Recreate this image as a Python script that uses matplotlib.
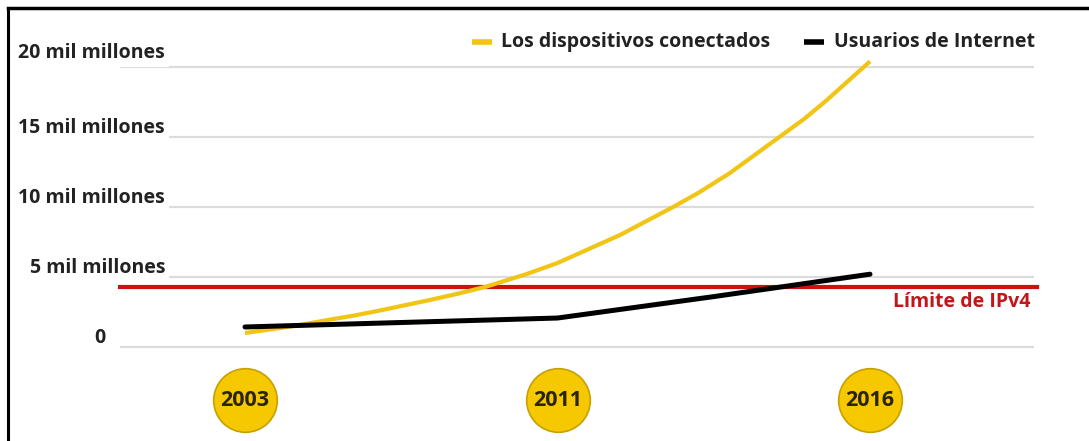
import matplotlib.pyplot as plt

# Datos (miles de millones); posiciones del eje x: 2003=0, 2011=1, 2016=2
years = ["2003", "2011", "2016"]
year_pos = [0, 1, 2]

dev_x = [0, 0.08, 0.17, 0.27, 0.35, 0.43, 0.59, 0.68, 0.77, 0.9, 1.0, 1.1, 1.2,
         1.37, 1.45, 1.55, 1.63, 1.71, 1.79, 1.86, 1.93, 2.0]
dev_y = [1.0, 1.25, 1.55, 1.95, 2.25, 2.6, 3.35, 3.8, 4.3, 5.2, 6.0, 7.0, 8.0,
         10.0, 11.0, 12.4, 13.7, 15.0, 16.3, 17.6, 19.0, 20.4]

users_x = [0, 0.5, 1.0, 1.5, 2.0]
users_y = [1.43, 1.75, 2.07, 3.6, 5.2]

ipv4_limit = 4.3
y_ticks = [0, 5, 10, 15, 20]
y_labels = ["0", "5 mil millones", "10 mil millones", "15 mil millones", "20 mil millones"]

YELLOW = "#f2c413"
RED = "#d01010"
GRID = "#dcdcdc"
TXT = "#222222"

plt.rcParams["font.family"] = ["Open Sans", "DejaVu Sans"]

fig = plt.figure(figsize=(10.89, 4.41), dpi=100)
ax = fig.add_axes([0, 0, 1, 1])
ax.set_xlim(-0.784, 2.7008)
ax.set_ylim(-6.714, 24.786)
ax.axis("off")

x_left, x_right = -0.4, 2.525

# lineas de cuadricula y etiquetas
for v, lab in zip(y_ticks, y_labels):
    ax.plot([x_left, x_right], [v, v], color=GRID, lw=1.6, zorder=1, solid_capstyle="butt")
    if v == 0:
        ax.text(-0.445, v + 0.65, lab, ha="right", va="center", fontsize=14,
                fontweight="bold", color=TXT, zorder=3)
    else:
        off = 1.0 if v == 20 else 0.65
        ax.text(-0.256, v + off, lab, ha="right", va="center", fontsize=14,
                fontweight="bold", color=TXT, zorder=3,
                bbox=dict(facecolor="white", edgecolor="none", pad=2.5))

# limite IPv4
ax.plot([x_left, x_right + 0.008], [ipv4_limit, ipv4_limit], color=RED, lw=3, zorder=2)
ax.text(2.513, ipv4_limit - 1.05, "Límite de IPv4", ha="right", va="center",
        fontsize=14, fontweight="bold", color="#c0161c")

# series
ax.plot(dev_x, dev_y, color=YELLOW, lw=3, zorder=4, solid_capstyle="butt")
ax.plot(users_x, users_y, color="black", lw=3.6, zorder=5, solid_capstyle="round")

# circulos de los anos
ax.scatter(year_pos, [-3.8] * 3, s=2100, color="#f5c800", edgecolors="#c8a000",
           linewidths=1.2, zorder=3)
for p, yr in zip(year_pos, years):
    ax.text(p, -3.8, yr, ha="center", va="center", fontsize=15.5, fontweight="bold",
            color="#2b2400", zorder=4)

# leyenda
ax.plot([0.726, 0.79], [21.8, 21.8], color=YELLOW, lw=4, solid_capstyle="butt")
ax.text(0.819, 21.8, "Los dispositivos conectados", ha="left", va="center",
        fontsize=14, fontweight="bold", color=TXT)
ax.plot([1.789, 1.853], [21.8, 21.8], color="black", lw=4, solid_capstyle="butt")
ax.text(1.885, 21.8, "Usuarios de Internet", ha="left", va="center",
        fontsize=14, fontweight="bold", color=TXT)

# marco
ax.plot([-0.757, -0.757], [-6.714, 24.2], color="black", lw=2.2, solid_capstyle="butt")
ax.plot([-0.757, 2.7008], [24.2, 24.2], color="black", lw=2.5, solid_capstyle="projecting")

fig.savefig("out.png", dpi=100, facecolor="white")
